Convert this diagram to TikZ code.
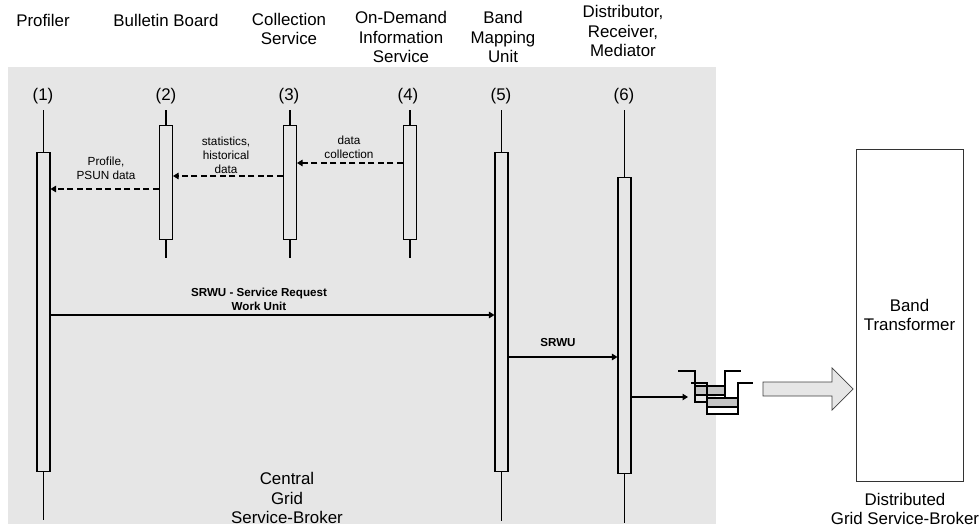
\documentclass[tikz,border=0pt]{standalone}
\usepackage{fontspec}
\setmainfont{Liberation Sans}
\usetikzlibrary{arrows.meta}
\definecolor{bggray}{RGB}{230,230,230}
\definecolor{qgray}{RGB}{196,196,196}
\begin{document}
\begin{tikzpicture}[x=0.2mm,y=-0.2mm,line width=0.6pt,
  hdr/.style={align=center,inner sep=0pt,font=\fontsize{9.6}{11}\selectfont},
  num/.style={inner sep=0pt,font=\fontsize{9.6}{11}\selectfont},
  act/.style={draw=black,anchor=north,minimum width=0.26cm,inner sep=0pt},
  life/.style={line width=0.9pt},
  msg/.style={align=center,inner sep=0pt,font=\fontsize{6.7}{7.9}\selectfont},
  bmsg/.style={align=center,inner sep=0pt,font=\fontsize{6.6}{8}\selectfont\bfseries},
  ret/.style={dash pattern=on 1.2mm off 0.7mm,-{Triangle[length=1.1mm,width=1.3mm]}},
  call/.style={-{Triangle[length=1.1mm,width=1.3mm]}}]
  \useasboundingbox (0,0) rectangle (980,526);
  \fill[bggray] (8,67) rectangle (716,524);
  % headers
  \node[hdr] (h1) at (43,20)    {Profiler};
  \node[hdr] (h2) at (166,20)   {Bulletin Board};
  \node[hdr] (h3) at (289,29)   {Collection\\ Service};
  \node[hdr] (h4) at (401,37)   {On-Demand\\ Information\\ Service};
  \node[hdr] (h5) at (503,37)   {Band\\ Mapping\\ Unit};
  \node[hdr] (h6) at (623,31)   {Distributor,\\ Receiver,\\ Mediator};
  \node[num] (n1) at (43,96)  {(1)};
  \node[num] (n2) at (166,96) {(2)};
  \node[num] (n3) at (289,96) {(3)};
  \node[num] (n4) at (408,96) {(4)};
  \node[num] (n5) at (501,96) {(5)};
  \node[num] (n6) at (624,96) {(6)};
  % activation boxes
  \node[act,minimum height=6.38cm] (a1) at (43.5,152) {};
  \node[act,minimum height=2.28cm] (a2) at (166,125)  {};
  \node[act,minimum height=2.28cm] (a3) at (290,125)  {};
  \node[act,minimum height=2.28cm] (a4) at (410,125)  {};
  \node[act,minimum height=6.38cm] (a5) at (501.5,152) {};
  \node[act,minimum height=5.92cm] (a6) at (624.5,177) {};
  % lifelines
  \draw[life] (a1.north |- 0,110) -- (a1.north);
  \draw[life] (a1.south) -- (a1.south |- 0,520);
  \draw[life] (a2.north |- 0,110) -- (a2.north);
  \draw[life] (a2.south) -- (a2.south |- 0,258);
  \draw[life] (a3.north |- 0,110) -- (a3.north);
  \draw[life] (a3.south) -- (a3.south |- 0,258);
  \draw[life] (a4.north |- 0,110) -- (a4.north);
  \draw[life] (a4.south) -- (a4.south |- 0,258);
  \draw[life] (a5.north |- 0,110) -- (a5.north);
  \draw[life] (a5.south) -- (a5.south |- 0,521);
  \draw[life] (a6.north |- 0,110) -- (a6.north);
  \draw[life] (a6.south) -- (a6.south |- 0,523);
  % messages
  \draw[ret] (a4.west |- 0,163) -- (a3.east |- 0,163);
  \node[msg] (m1) at (349,147) {data\\ collection};
  \draw[ret] (a3.west |- 0,176) -- (a2.east |- 0,176);
  \node[msg] (m2) at (226,155) {statistics,\\ historical\\ data};
  \draw[ret] (a2.west |- 0,189) -- (a1.east |- 0,189);
  \node[msg] (m3) at (106,168) {Profile,\\ PSUN data};
  \draw[call] (a1.east |- 0,315) -- (a5.west |- 0,315);
  \node[bmsg] (m4) at (259,299) {SRWU - Service Request\\ Work Unit};
  \draw[call] (a5.east |- 0,357) -- (a6.west |- 0,357);
  \node[bmsg] (m5) at (558,343) {SRWU};
  % queue
  \coordinate (q) at (688,397);
  \draw[call] (a6.east |- q) -- (q);
  \draw (678,371) -- (695,371) -- (695,402) -- (725,402) -- (725,371) -- (741,371);
  \filldraw[fill=qgray] (695,386) rectangle (725,395);
  \draw (695,395) rectangle (725,402);
  \draw (691,383) -- (707,383) -- (707,414) -- (738,414) -- (738,383) -- (753,383);
  \filldraw[fill=qgray] (707,398) rectangle (738,407);
  \filldraw[fill=white] (707,407) rectangle (738,414);
  % block arrow
  \filldraw[fill=bggray,draw=black!75,line width=0.4pt]
    (763,382) -- (832,382) -- (832,368) -- (853,389) -- (832,410)
    -- (832,396) -- (763,396) -- cycle;
  % band transformer
  \node[draw=black!80,line width=0.5pt,minimum width=2.14cm,minimum height=6.64cm,
        align=center,font=\fontsize{9.6}{11}\selectfont] (bt) at (909.5,315)
    {Band\\ Transformer};
  \node[hdr] (dgsb) at (905,509) {Distributed\\ Grid Service-Broker};
  \node[align=center,inner sep=0pt,font=\fontsize{9.6}{11.3}\selectfont] (cgsb)
    at (287,498) {Central\\ Grid\\ Service-Broker};
\end{tikzpicture}
\end{document}
